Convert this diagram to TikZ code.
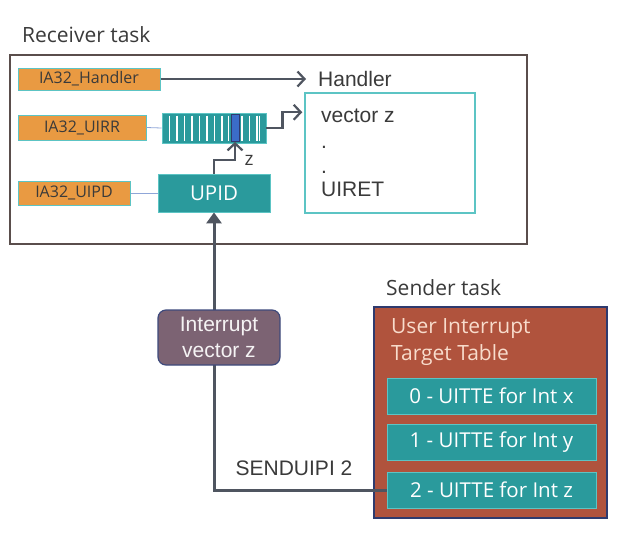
\documentclass[tikz,border=0pt]{standalone}
\usepackage{fontspec}
\setmainfont{Liberation Sans}
\newfontfamily\os{Open Sans}
\usetikzlibrary{arrows.meta}
\definecolor{orng}{HTML}{E99A42}
\definecolor{tealc}{HTML}{2A9A9C}
\definecolor{tealb}{HTML}{5CC4C4}
\definecolor{brick}{HTML}{B0533D}
\definecolor{navy}{HTML}{2E3A6E}
\definecolor{plum}{HTML}{7C6373}
\definecolor{plumb}{HTML}{3E4A7C}
\definecolor{linec}{HTML}{4F5560}
\definecolor{framec}{HTML}{5A4E4C}
\definecolor{txt}{HTML}{3A3A3A}
\definecolor{thinb}{HTML}{8FA6D8}
\definecolor{hilite}{HTML}{3B6CC9}
\definecolor{pale}{HTML}{F8DCCC}
\begin{document}
\begin{tikzpicture}[x=1pt,y=-1pt,
  reg/.style={draw=tealb, fill=orng, line width=1pt, inner sep=0pt, text=txt,
    font=\os\fontsize{16}{17}\selectfont},
  tealbox/.style={fill=tealc, draw=tealb, line width=0.8pt, inner sep=0pt, text=white,
    font=\os\fontsize{20.5}{22}\selectfont},
  lbl/.style={inner sep=0pt, text=txt, font=\fontsize{21}{23}\selectfont},
  head/.style={inner sep=0pt, text=txt, font=\os\fontsize{21}{22}\selectfont},
  arr/.style={draw=linec, line width=2.2pt, -{Straight Barb[length=7pt,width=15pt,line width=2.2pt]}},
  thin/.style={draw=thinb, line width=0.8pt},
]
\useasboundingbox (0,0) rectangle (620,533);

% receiver
\node[head, anchor=west] (rtitle) at (22,35) {Receiver task};
\node[draw=framec, line width=2pt, minimum width=517pt, minimum height=189pt, inner sep=0pt] (recv) at (268.5,149.5) {};

\node[reg, minimum width=142pt, minimum height=22pt] (hreg) at (89,79) {IA32\_Handler};
\node[reg, minimum width=128pt, minimum height=25pt] (ureg) at (82,127.5) {IA32\_UIRR};
\node[reg, minimum width=112pt, minimum height=24pt] (preg) at (74,193) {IA32\_UIPD};

\node[fill=tealc, draw=tealb, line width=0.8pt, minimum width=104pt, minimum height=30pt, inner sep=0pt] (uirr) at (214,128) {};
\foreach \xx in {169.5,177,184.5,192,199.5,207,214.5,222,228.5,242,249.5,257,259.5}
  \draw[white, line width=1.1pt] (\xx,115.5) -- (\xx,140.5);
\node[fill=hilite, draw=navy, line width=0.8pt, minimum width=8pt, minimum height=27pt, inner sep=0pt] (hl) at (235,128) {};

\node[tealbox, minimum width=112pt, minimum height=38pt] (upid) at (214,193) {UPID};

\node[draw=tealb, line width=1.5pt, minimum width=170pt, minimum height=120pt, inner sep=0pt] (tbl) at (390,153) {};
\node[lbl, anchor=west] (hname) at (318,79) {Handler};
\node[lbl, anchor=west] (vz) at (321,116) {vector z};
\node[lbl, anchor=west] (d1) at (321,147) {.};
\node[lbl, anchor=west] (d2) at (321,172) {.};
\node[lbl, anchor=west] (uiret) at (321,189) {UIRET};

\draw[thin] (ureg.east) -- (uirr.west);
\draw[thin] (preg.east) -- (upid.west);

\draw[arr] (hreg.east) -- ([xshift=-12pt]hname.west);
\draw[arr] (uirr.east) -- ++(16,0) |- ([yshift=-20pt,xshift=-2pt]tbl.north west);
\draw[arr] (upid.north) -- ++(0,-14) -| (hl.south);
\node[inner sep=0pt, text=txt, font=\os\fontsize{19}{20}\selectfont] (zl) at (249,160) {z};

% sender
\node[head, anchor=west] (stitle) at (386,288) {Sender task};
\node[fill=brick, draw=navy, line width=1.5pt, minimum width=233pt, minimum height=211pt, inner sep=0pt] (send) at (490.5,412.5) {};
\node[inner sep=0pt, anchor=north west, align=left, text=pale, font=\os\fontsize{21}{27}\selectfont] (utt) at (391,318) {User Interrupt\\Target Table};
\node[tealbox, minimum width=209pt, minimum height=36pt] (u0) at (491.5,396) {0 - UITTE for Int x};
\node[tealbox, minimum width=209pt, minimum height=36pt] (u1) at (491.5,442.5) {1 - UITTE for Int y};
\node[tealbox, minimum width=209pt, minimum height=36pt] (u2) at (491.5,490) {2 - UITTE for Int z};

% main connector
\draw[draw=linec, line width=3pt, -{Triangle[length=11pt,width=15pt]}] (u2.west) -- (upid.south |- u2.west) -- (upid.south);
\node[fill=plum, draw=plumb, line width=1.2pt, rounded corners=8pt, minimum width=122pt, minimum height=55pt, inner sep=0pt, align=center, text=white!92!plum, font=\fontsize{21}{26}\selectfont] (ivz) at (219,337.5) {Interrupt\\vector z};
\node[lbl] (snd) at (294,468) {SENDUIPI 2};
\end{tikzpicture}
\end{document}
